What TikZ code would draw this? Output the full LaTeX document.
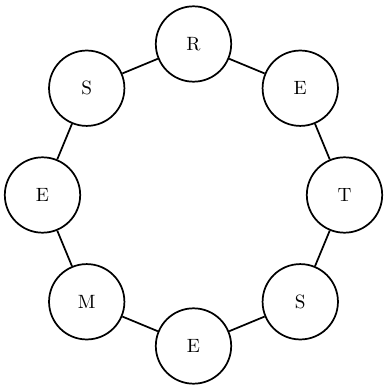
\documentclass[tikz,border=0pt]{standalone}
\begin{document}
\begin{tikzpicture}[x=0.52pt,y=0.52pt,
  letter/.style={circle,draw,line width=0.9pt,minimum size=39.2pt,inner sep=0pt},
  link/.style={line width=0.9pt}]
\useasboundingbox (-193.5,-192) rectangle (190.5,195);
\node[letter] (n1) at (90:151) {R};
\node[letter] (n2) at (45:151) {E};
\node[letter] (n3) at (0:151) {T};
\node[letter] (n4) at (-45:151) {S};
\node[letter] (n5) at (-90:151) {E};
\node[letter] (n6) at (-135:151) {M};
\node[letter] (n7) at (180:151) {E};
\node[letter] (n8) at (135:151) {S};
\draw[link] (n1) -- (n2);
\draw[link] (n2) -- (n3);
\draw[link] (n3) -- (n4);
\draw[link] (n4) -- (n5);
\draw[link] (n5) -- (n6);
\draw[link] (n6) -- (n7);
\draw[link] (n7) -- (n8);
\draw[link] (n8) -- (n1);
\end{tikzpicture}
\end{document}
